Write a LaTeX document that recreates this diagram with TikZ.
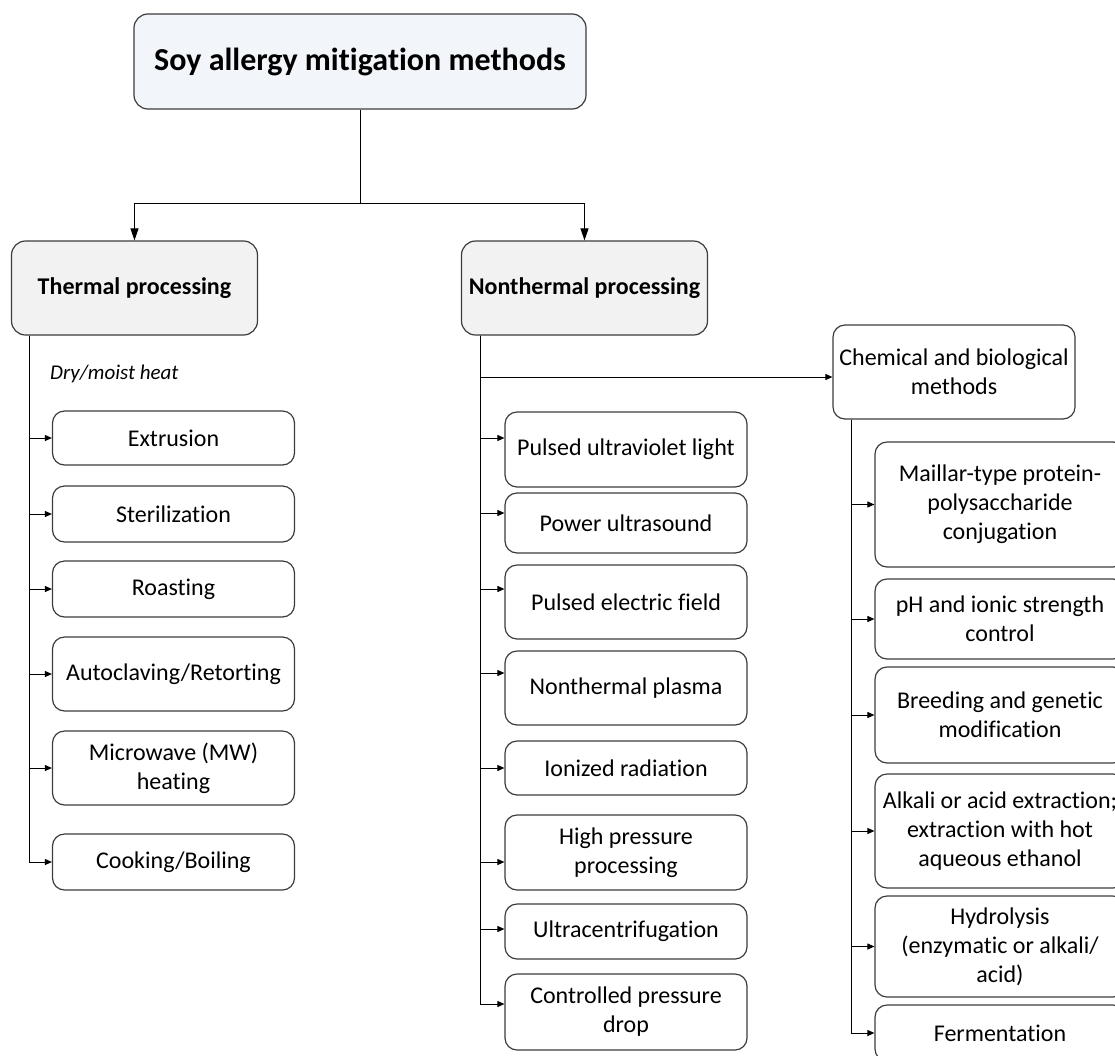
\documentclass[tikz,border=0pt]{standalone}
\usepackage{fontspec}
\setmainfont{Carlito}[Ligatures=NoCommon]
\usetikzlibrary{arrows.meta}
\definecolor{titlefill}{HTML}{F2F6FA}
\definecolor{headfill}{HTML}{F2F2F2}
\definecolor{edgegray}{HTML}{3C3C3C}

\begin{document}
\begin{tikzpicture}[x=1pt, y=-1pt, font=\fontsize{24}{29}\selectfont,
   bx/.style={draw=edgegray, line width=1.2pt, rounded corners=12pt, align=center, inner sep=0pt, fill=white},
   hd/.style={bx, fill=headfill, rounded corners=14pt, minimum width=246pt, minimum height=94pt, font=\fontsize{24}{29}\selectfont\bfseries},
   it/.style={bx, minimum width=242pt},
   ct/.style={bx, minimum width=250pt},
   barr/.style={-{Triangle[length=12pt,width=8pt]}, line width=1pt},
   sarr/.style={-{Triangle[length=7pt,width=6pt]}, line width=1pt}]
  \useasboundingbox (0,0) rectangle (1115,1055);
  \node[bx, fill=titlefill, rounded corners=14pt, minimum width=452pt, minimum height=95pt, font=\fontsize{32}{38}\selectfont\bfseries] (soy) at (360,61.5) {Soy allergy mitigation methods};
  \node[hd] (thermal) at (134.5,288) {Thermal processing};
  \node[hd] (nonthermal) at (584.5,288) {Nonthermal processing};
  \node[bx, minimum width=242pt, minimum height=94pt] (chem) at (954,372) {Chemical and biological\\ methods};
  \node[anchor=base west, inner sep=0pt, font=\fontsize{21}{25}\selectfont\itshape] (dry) at (50,379) {Dry/moist heat};

  \node[it, minimum height=54pt] (extr) at (173.5,438) {Extrusion};
  \node[it, minimum height=56pt] (steril) at (173.5,514) {Sterilization};
  \node[it, minimum height=56pt] (roast) at (173.5,589) {Roasting};
  \node[it, minimum height=74pt] (autocl) at (173.5,674) {Autoclaving/Retorting};
  \node[it, minimum height=74pt] (micro) at (173.5,768) {Microwave (MW)\\ heating};
  \node[it, minimum height=56pt] (cook) at (173.5,862) {Cooking/Boiling};

  \node[it, minimum height=75pt] (puv) at (626,449.5) {Pulsed ultraviolet light};
  \node[it, minimum height=60pt] (pus) at (626,523) {Power ultrasound};
  \node[it, minimum height=74pt] (pef) at (626,602) {Pulsed electric field};
  \node[it, minimum height=74pt] (ntp) at (626,688) {Nonthermal plasma};
  \node[it, minimum height=54pt] (ion) at (626,768) {Ionized radiation};
  \node[it, minimum height=75pt] (hpp) at (626,852.5) {High pressure\\ processing};
  \node[it, minimum height=55pt] (ucf) at (626,931.5) {Ultracentrifugation};
  \node[it, minimum height=76pt] (cpd) at (626,1012) {Controlled pressure\\ drop};

  \node[ct, minimum height=125pt] (maillard) at (1000,504.5) {Maillar-type protein-\\ polysaccharide\\ conjugation};
  \node[ct, minimum height=80pt] (phion) at (1000,619) {pH and ionic strength\\ control};
  \node[ct, minimum height=96pt] (breed) at (1000,715) {Breeding and genetic\\ modification};
  \node[ct, minimum height=114pt] (alkali) at (1000,831) {Alkali or acid extraction;\\ extraction with hot\\ aqueous ethanol};
  \node[ct, minimum height=101pt] (hydro) at (1000,946.5) {Hydrolysis\\ (enzymatic or alkali/\\ acid)};
  \node[ct, minimum height=56pt] (ferm) at (1000,1033) {Fermentation};

  \coordinate (fork) at (360,203);
  \coordinate (tt) at ([xshift=19pt]thermal.south west);
  \coordinate (nt) at ([xshift=20pt]nonthermal.south west);
  \coordinate (cht) at ([xshift=19pt]chem.south west);
  \draw[barr] (soy.south) -- (fork) -| (thermal.north);
  \draw[barr] (fork) -| (nonthermal.north);

  \draw[sarr] (tt) |- (extr.west);
  \draw[sarr] (tt) |- (steril.west);
  \draw[sarr] (tt) |- (roast.west);
  \draw[sarr] (tt) |- (autocl.west);
  \draw[sarr] (tt) |- (micro.west);
  \draw[sarr] (tt) |- (cook.west);

  \draw[sarr] (nt) |- ([yshift=-5pt]chem.west);
  \draw[sarr] (nt) |- ([yshift=11.5pt]puv.west);
  \draw[sarr] (nt) |- ([yshift=10pt]pus.west);
  \draw[sarr] (nt) |- ([yshift=13pt]pef.west);
  \draw[sarr] (nt) |- ([yshift=15pt]ntp.west);
  \draw[sarr] (nt) |- (ion.west);
  \draw[sarr] (nt) |- ([yshift=-9.5pt]hpp.west);
  \draw[sarr] (nt) |- ([yshift=2.5pt]ucf.west);
  \draw[sarr] (nt) |- ([yshift=8pt]cpd.west);

  \draw[sarr] (cht) |- (maillard.west);
  \draw[sarr] (cht) |- (phion.west);
  \draw[sarr] (cht) |- (breed.west);
  \draw[sarr] (cht) |- (alkali.west);
  \draw[sarr] (cht) |- (hydro.west);
  \draw[sarr] (cht) |- (ferm.west);
\end{tikzpicture}
\end{document}
